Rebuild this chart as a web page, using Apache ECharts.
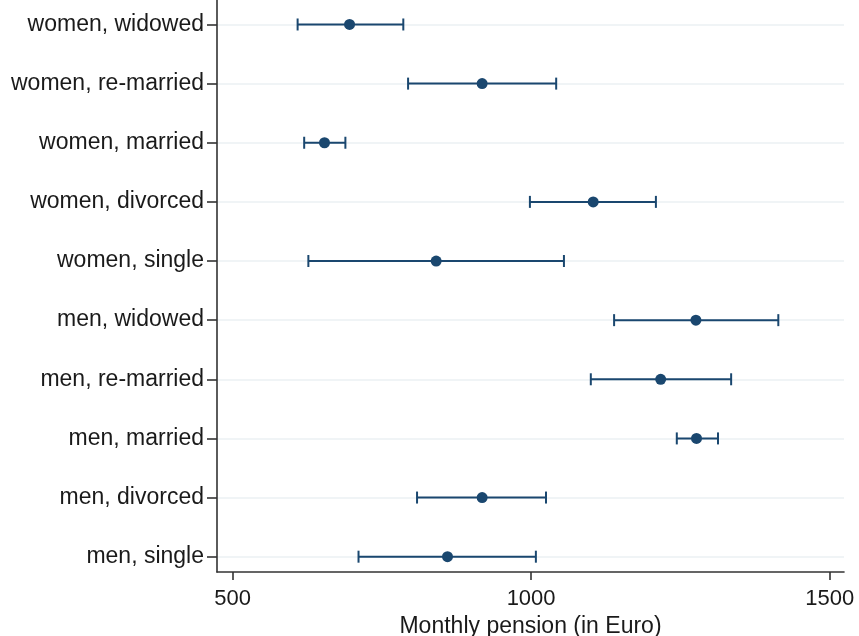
<!DOCTYPE html>
<html>
<head>
<meta charset="utf-8">
<script src="https://cdn.jsdelivr.net/npm/echarts@6/dist/echarts.min.js"></script>
<style>
  html, body { margin: 0; padding: 0; background: #fff; }
  #chart { width: 859px; height: 636px; }
</style>
</head>
<body>
<div id="chart"></div>
<script>
// Groups listed bottom to top
const groups = [
  'men, single', 'men, divorced', 'men, married', 'men, re-married', 'men, widowed',
  'women, single', 'women, divorced', 'women, married', 'women, re-married', 'women, widowed'
];
// Mean monthly pension and 95% confidence bounds (Euro)
const means = [860, 918, 1277, 1217, 1276, 841, 1104, 654, 918, 696];
const lower = [711, 809, 1244, 1100, 1139, 627, 998, 620, 794, 609];
const upper = [1008, 1025, 1313, 1335, 1414, 1055, 1209, 689, 1042, 786];
const xTicks = [500, 1000, 1500];

const navy = '#1a476f';
const font = 'Liberation Sans, Arial, sans-serif';
const positions = groups.map((_, i) => i + 1);

const intervalData = groups.map((_, i) => [lower[i], upper[i], positions[i]]);
const pointData = groups.map((_, i) => [means[i], positions[i]]);

const chart = echarts.init(document.getElementById('chart'), null, { renderer: 'canvas' });

chart.setOption({
  animation: false,
  backgroundColor: '#ffffff',
  grid: { left: 217, right: 15, top: 0, bottom: 64, containLabel: false, outerBoundsMode: 'none' },
  xAxis: {
    type: 'value',
    min: 474,
    max: 1524,
    name: 'Monthly pension (in Euro)',
    nameLocation: 'middle',
    nameGap: 40,
    nameTextStyle: { fontFamily: font, fontSize: 23, color: '#1a1a1a' },
    axisLine: { show: true, lineStyle: { color: '#333333', width: 1.6 } },
    axisTick: { show: true, length: 8, customValues: xTicks, lineStyle: { color: '#333333', width: 1.6 } },
    axisLabel: {
      customValues: xTicks,
      margin: 16,
      fontFamily: font,
      fontSize: 22,
      color: '#1a1a1a',
      formatter: v => String(v)
    },
    splitLine: { show: false }
  },
  yAxis: {
    type: 'value',
    min: 0.741,
    max: 10.414,
    axisLine: { show: true, lineStyle: { color: '#333333', width: 1.6 } },
    axisTick: { show: true, length: 10, customValues: positions, lineStyle: { color: '#333333', width: 1.6 } },
    axisLabel: {
      customValues: positions,
      margin: 13,
      fontFamily: font,
      fontSize: 23,
      color: '#1a1a1a',
      formatter: v => groups[Math.round(v) - 1] || ''
    },
    splitLine: { show: true, lineStyle: { color: '#ebf1f3', width: 1.6 } }
  },
  series: [
    {
      type: 'custom',
      name: 'CI',
      data: intervalData,
      renderItem: function (params, api) {
        const lo = api.coord([api.value(0), api.value(2)]);
        const hi = api.coord([api.value(1), api.value(2)]);
        const cap = 6;
        const style = { stroke: navy, lineWidth: 2 };
        return {
          type: 'group',
          children: [
            { type: 'line', shape: { x1: lo[0], y1: lo[1], x2: hi[0], y2: hi[1] }, style: style },
            { type: 'line', shape: { x1: lo[0], y1: lo[1] - cap, x2: lo[0], y2: lo[1] + cap }, style: style },
            { type: 'line', shape: { x1: hi[0], y1: hi[1] - cap, x2: hi[0], y2: hi[1] + cap }, style: style }
          ]
        };
      },
      z: 2
    },
    {
      type: 'scatter',
      name: 'Mean',
      data: pointData,
      symbol: 'circle',
      symbolSize: 11,
      itemStyle: { color: navy, opacity: 1 },
      z: 3
    }
  ]
});
</script>
</body>
</html>
